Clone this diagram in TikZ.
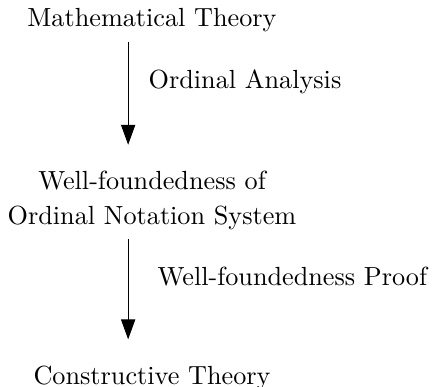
\documentclass[tikz,border=0pt]{standalone}
\usepackage{tikz}
\usetikzlibrary{arrows.meta, positioning}

\begin{document}
\begin{tikzpicture}[
    node distance=1.6cm,
    every node/.style={font=\normalsize},
    theory/.style={align=center},
    arrow/.style={-{Triangle[length=7.6pt, width=5.4pt]}, shorten >=6.6pt},
    lbl/.style={right, inner sep=3.33pt},
]
\useasboundingbox (0,0) rectangle (5.805,-5.175);

% === THEORIES ===
\node[theory, anchor=base] (math) at (2.038,-0.362) {Mathematical Theory};
\node[theory, below=1.615cm of math, font=\fontsize{10}{13.1}\selectfont] (wf) {Well-foundedness of\\Ordinal Notation System};
\node[theory, below=1.58cm of wf] (cons) {Constructive Theory};

% === ARROWS ===
\draw[arrow] ([xshift=-0.32cm]math.south) -- node[lbl, pos=0.33, xshift=4.3pt] (oa) {Ordinal Analysis} ([xshift=-0.32cm]wf.north);
\draw[arrow] ([xshift=-0.32cm]wf.south) -- node[lbl, pos=0.32, xshift=7.7pt] (wfp) {Well-foundedness Proof} ([xshift=-0.32cm]cons.north);

\end{tikzpicture}
\end{document}
